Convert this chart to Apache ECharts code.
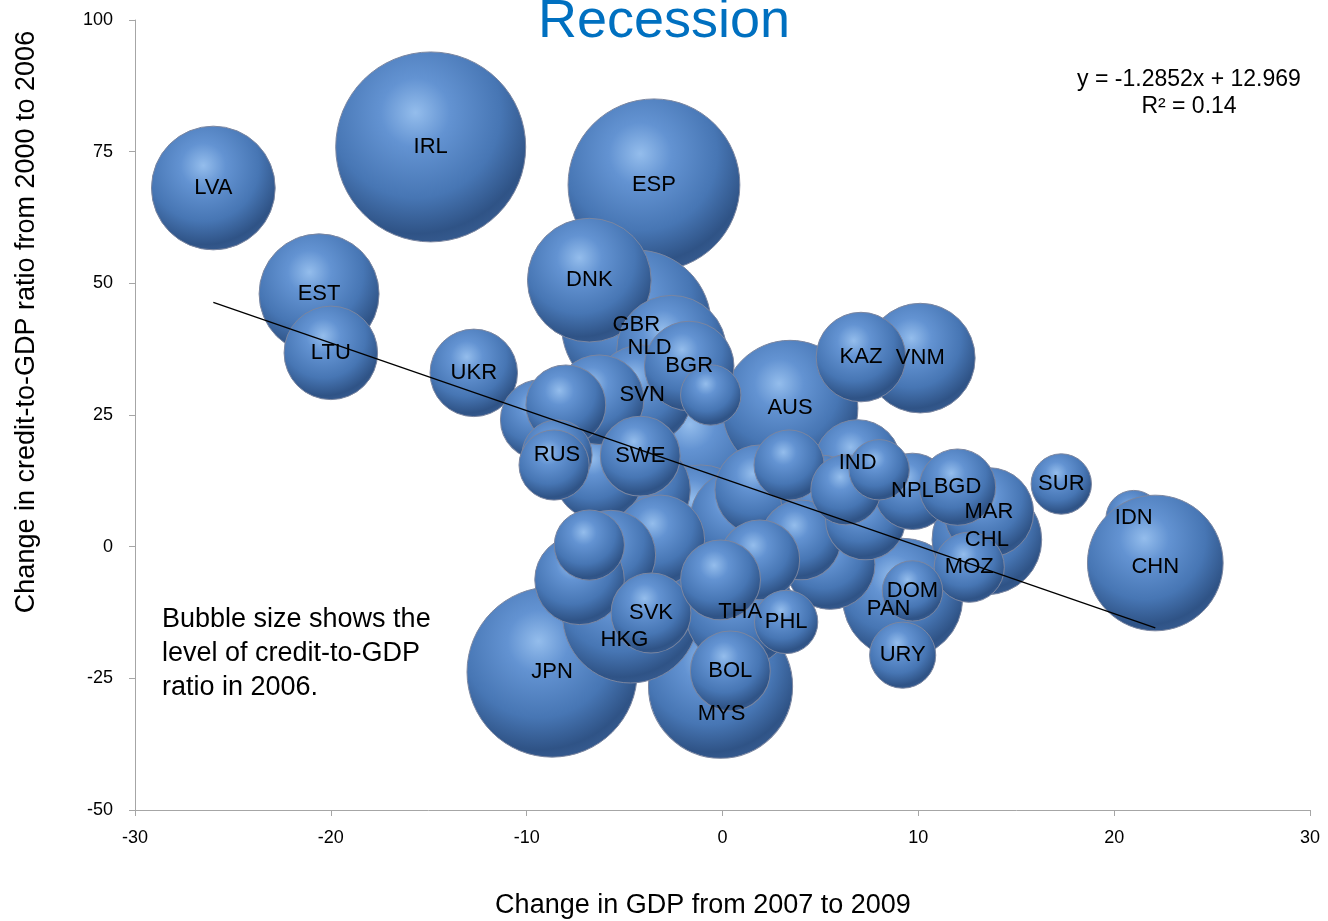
<!DOCTYPE html>
<html>
<head>
<meta charset="utf-8">
<title>Recession</title>
<script src="https://cdn.jsdelivr.net/npm/echarts@6/dist/echarts.min.js"></script>
<style>
  html, body { margin: 0; padding: 0; background: #fff; }
  #main { width: 1328px; height: 921px; }
</style>
</head>
<body>
<div id="main"></div>
<script>
// bubbles in drawing order (first = bottom). '' = unlabelled country
const names = ['IRL', 'ESP', 'JPN', 'GBR', 'MYS', '', 'AUS', 'HKG', 'LVA', 'DNK', 'EST', 'PAN',
  'NLD', 'VNM', 'CHL', 'THA', '', '', 'SVN', '', '', 'LTU', 'BGR', 'KAZ', 'MAR', '', '', '', '', '', '', '',
  'UKR', 'IND', 'SWE', 'BOL', 'SVK', '', '', '', '', '', '', '', 'NPL', 'BGD', 'RUS', 'MOZ', '', '', '', '',
  'URY', 'PHL', 'SUR', 'DOM', '', '', 'IDN', 'CHN'];
// change in GDP 2007-2009
const gdpChange = [-14.9, -3.5, -8.7, -4.4, -0.1, -1.1, 3.45, -4.7, -26.0, -6.8, -20.6, 9.2,
  -2.6, 10.1, 13.5, 0.9, -1.1, 0.9, -4.1, -4.2, -7.5, -20.0, -1.7, 7.07, 13.6, -6.3, -3.2, -5.7, -7.3, -6.3, 1.9, 5.5,
  -12.7, 6.9, -4.2, 0.4, -3.65, -9.3, 5.0, 4.0, 1.9, 7.3, -0.1, -8.0, 9.7, 12.0, -8.45, 12.6, -8.6, 3.4, 6.3, -6.8,
  9.2, 3.25, 17.3, 9.7, 8.0, -0.6, 21.0, 22.1];
// change in credit-to-GDP ratio 2000-2006
const creditChange = [75.9, 68.7, -23.8, 42.1, -26.5, 18.4, 26.3, -13.0, 68.1, 50.6, 48.0, -9.8,
  37.3, 35.8, 1.3, -12.4, 5.1, 5.1, 28.8, 10.8, 20.3, 36.8, 34.3, 36.0, 6.5, 13.6, 1.3, -1.6, -6.3, 27.9, 10.8, -3.4,
  33.0, 15.9, 17.2, -23.6, -12.6, 24.1, 9.8, 1.3, -2.5, 5.1, -6.3, 26.9, 10.5, 11.3, 17.4, -3.9, 15.5, 15.5, 10.8, 0.3,
  -20.6, -14.3, 11.9, -8.4, 14.6, 28.8, 5.4, -3.1];
// credit-to-GDP ratio in 2006 (bubble size)
const creditLevel = [198, 162, 159, 123, 114, 108, 101, 101, 84, 84, 79, 79,
  66, 66, 66, 66, 66, 55, 55, 55, 44, 48, 44, 44, 44, 44, 44, 44, 44, 44, 44, 44,
  42, 41, 35, 35, 35, 35, 35, 35, 35, 35, 35, 35, 32, 32, 27, 27, 27, 27, 27, 27,
  24, 22, 20, 20, 20, 20, 17, 101];

const xTicks = [-30, 30, 10];
const yTicks = [-50, 100, 25];
const trendSlope = -1.2852;
const trendIntercept = 12.969;

// label nudges (px) where the chart's labels sit off the bubble centre
const labelShift = { NLD: [-22, -2], HKG: [-6, 25], MYS: [1, 28], PAN: [-14, 11], CHN: [0, 4] };

const bubbles = names.map((n, i) => ({
  value: [gdpChange[i], creditChange[i], creditLevel[i], n],
  label: labelShift[n] ? { offset: labelShift[n] } : undefined
}));

const labelled = names.map((n, i) => i).filter(i => names[i] !== '');
const xMin = Math.min(...labelled.map(i => gdpChange[i]));
const xMax = Math.max(...labelled.map(i => gdpChange[i]));
const trend = [xMin, xMax].map(x => [x, trendSlope * x + trendIntercept]);

const sphere = {
  type: 'radial', x: 0.42, y: 0.32, r: 0.72,
  colorStops: [
    { offset: 0, color: '#94bdec' },
    { offset: 0.25, color: '#6393d2' },
    { offset: 0.62, color: '#4776b4' },
    { offset: 0.88, color: '#2f5386' },
    { offset: 1, color: '#385d92' }
  ]
};

const font = 'Liberation Sans, Arial, sans-serif';
const chart = echarts.init(document.getElementById('main'));
chart.setOption({
  animation: false,
  textStyle: { fontFamily: font },
  grid: { left: 135, right: 18, top: 20, bottom: 111 },
  xAxis: {
    type: 'value', min: xTicks[0], max: xTicks[1], interval: xTicks[2],
    splitLine: { show: false },
    axisLine: { onZero: false, lineStyle: { color: '#a6a6a6' } },
    axisTick: { length: 6, lineStyle: { color: '#a6a6a6' } },
    axisLabel: { color: '#000', fontSize: 18, margin: 19 }
  },
  yAxis: {
    type: 'value', min: yTicks[0], max: yTicks[1], interval: yTicks[2],
    splitLine: { show: false },
    axisLine: { show: true, onZero: false, lineStyle: { color: '#a6a6a6' } },
    axisTick: { show: true, length: 6, lineStyle: { color: '#a6a6a6' } },
    axisLabel: { color: '#000', fontSize: 18, margin: 22 }
  },
  series: [
    {
      type: 'scatter',
      data: bubbles,
      symbolSize: d => 13.5 * Math.sqrt(d[2]),
      itemStyle: { color: sphere, borderColor: '#7b86a0', borderWidth: 1, opacity: 1 },
      label: {
        show: true, position: 'inside', formatter: p => p.value[3],
        color: '#000', fontSize: 22
      },
      emphasis: { disabled: true },
      z: 2
    },
    {
      type: 'line',
      data: trend,
      symbol: 'none',
      lineStyle: { color: '#000', width: 1.3 },
      z: 5
    }
  ],
  graphic: [
    { type: 'text', left: 'center', top: -5,
      style: { text: 'Recession', fill: '#0070c0', fontSize: 54, fontFamily: font } },
    { type: 'text', x: 1189, y: 80,
      style: { text: 'y = -1.2852x + 12.969', fill: '#000', fontSize: 23, align: 'center', verticalAlign: 'middle', fontFamily: font } },
    { type: 'text', x: 1189, y: 107,
      style: { text: 'R² = 0.14', fill: '#000', fontSize: 23, align: 'center', verticalAlign: 'middle', fontFamily: font } },
    { type: 'text', x: 162, y: 603,
      style: { text: 'Bubble size shows the\nlevel of credit-to-GDP\nratio in 2006.', fill: '#000', fontSize: 27,
        lineHeight: 34, fontFamily: font } },
    { type: 'text', x: 703, y: 906,
      style: { text: 'Change in GDP from 2007 to 2009', fill: '#000', fontSize: 27, align: 'center', verticalAlign: 'middle', fontFamily: font } },
    { type: 'text', x: 27, y: 322, rotation: Math.PI / 2,
      style: { text: 'Change in credit-to-GDP ratio from 2000 to 2006', fill: '#000', fontSize: 27,
        align: 'center', verticalAlign: 'middle', fontFamily: font } }
  ]
});
</script>
</body>
</html>
